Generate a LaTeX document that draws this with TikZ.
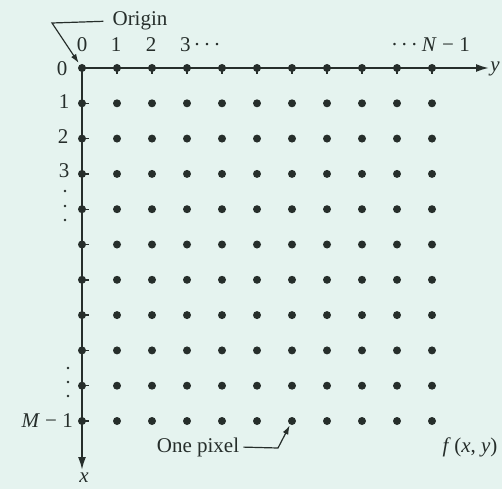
\documentclass[tikz,border=0pt]{standalone}
\usepackage{fontspec}
\setmainfont{Liberation Serif}
\usetikzlibrary{arrows.meta}
\definecolor{bg}{RGB}{229,243,239}
\definecolor{ink}{RGB}{38,46,43}
\begin{document}
\begin{tikzpicture}[x=1pt,y=-1pt,
  dot/.style={circle,fill=ink,inner sep=0pt,minimum size=8pt},
  lbl/.style={font=\fontsize{21}{23}\selectfont,text=ink,inner sep=0pt},
  axisline/.style={draw=ink,line width=1.9pt,-{Latex[length=13pt,width=8pt]}},
  pointer/.style={draw=ink,line width=1.2pt,-{Latex[length=9pt,width=6pt]}},
  tick/.style={draw=ink,line width=1.4pt},
  sdot/.style={fill=ink}]
\fill[bg] (0,0) rectangle (502,489);
\useasboundingbox (0,0) rectangle (502,489);
% axes
\coordinate (O) at (82,68);
\coordinate (yend) at (489,68);
\coordinate (xend) at (82,470);
\draw[axisline] (O) -- (yend);
\draw[axisline] (O) -- (xend);
% pixel grid
\foreach \i in {0,...,10} {
  \foreach \j in {0,...,10} {
    \node[dot] (p\i-\j) at ({82+35*\j},{68+35.3*\i}) {};
  }
}
\foreach \j in {0,...,10} { \draw[tick] (p0-\j.center) -- ++(0,6); }
\foreach \i in {1,...,10} { \draw[tick] (p\i-0.center) -- ++(7,0); }
% axis end labels
\node[lbl,font=\fontsize{21}{23}\selectfont\itshape] (ylab) at (495,69) {y};
\node[lbl,font=\fontsize{21}{23}\selectfont\itshape] (xlab) at (84,478) {x};
% column labels
\node[lbl] (c0) at (82,45) {0};
\node[lbl] (c1) at (116,45) {1};
\node[lbl] (c2) at (151,45) {2};
\node[lbl,anchor=west] (c3) at (180,45) {3\hspace{3pt}·\hspace{3pt}·\hspace{3pt}·};
\node[lbl,anchor=east] (cN) at (470,45) {·\hspace{3pt}·\hspace{3pt}·\hspace{4pt}\textit{N} − 1};
% row labels
\node[lbl] (r0) at (62,69) {0};
\node[lbl] (r1) at (64,102) {1};
\node[lbl] (r2) at (63,137) {2};
\node[lbl] (r3) at (64,171) {3};
\fill[sdot] (65,191) circle (1.3pt);
\fill[sdot] (65,206) circle (1.3pt);
\fill[sdot] (65,220) circle (1.3pt);
\fill[sdot] (68,368) circle (1.3pt);
\fill[sdot] (68,382) circle (1.3pt);
\fill[sdot] (68,396) circle (1.3pt);
\node[lbl,anchor=east] (rM) at (73,421) {\textit{M} − 1};
% origin pointer
\node[lbl] (origin) at (140,21) {Origin};
\coordinate (obend) at (52,23);
\draw[pointer,shorten >=6pt,shorten <=9pt] (origin.west) -- (obend) -- (p0-0.center);
% one pixel pointer
\node[lbl] (pix) at (198,447) {One pixel};
\coordinate (pbend) at (278,448);
\draw[pointer,shorten >=5pt,shorten <=4pt] (pix.east) -- (pbend) -- (p10-6.center);
% image label
\node[lbl] (fxy) at (470,447) {\textit{f}\,(\textit{x}, \textit{y})};
\end{tikzpicture}
\end{document}
